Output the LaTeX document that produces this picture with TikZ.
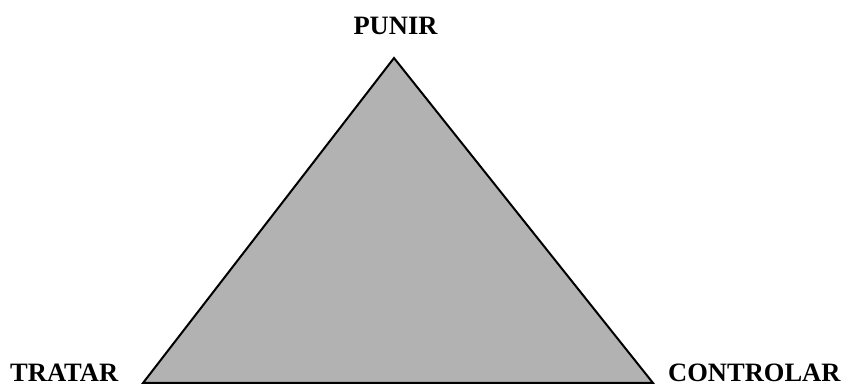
\documentclass[tikz,border=0pt]{standalone}
\usepackage{fontspec}
\setmainfont{Liberation Serif}
\begin{document}
\begin{tikzpicture}[x=1pt,y=1pt,
  lbl/.style={inner sep=0pt,font=\fontsize{26.5}{30}\selectfont\bfseries},
  tri/.style={draw=black,fill=black!30,line width=2pt,line join=miter}]
\useasboundingbox (0,0) rectangle (846,388);
\coordinate (top) at (394,330);
\coordinate (bl) at (143,5);
\coordinate (br) at (653,5);
\draw[tri] (top) -- (bl) -- (br) -- cycle;
\node[lbl,anchor=base] (punir) at (395.5,353) {PUNIR};
\node[lbl,anchor=base west] (tratar) at (10,6.5) {TRATAR};
\node[lbl,anchor=base west] (controlar) at (668,6.5) {CONTROLAR};
\end{tikzpicture}
\end{document}
